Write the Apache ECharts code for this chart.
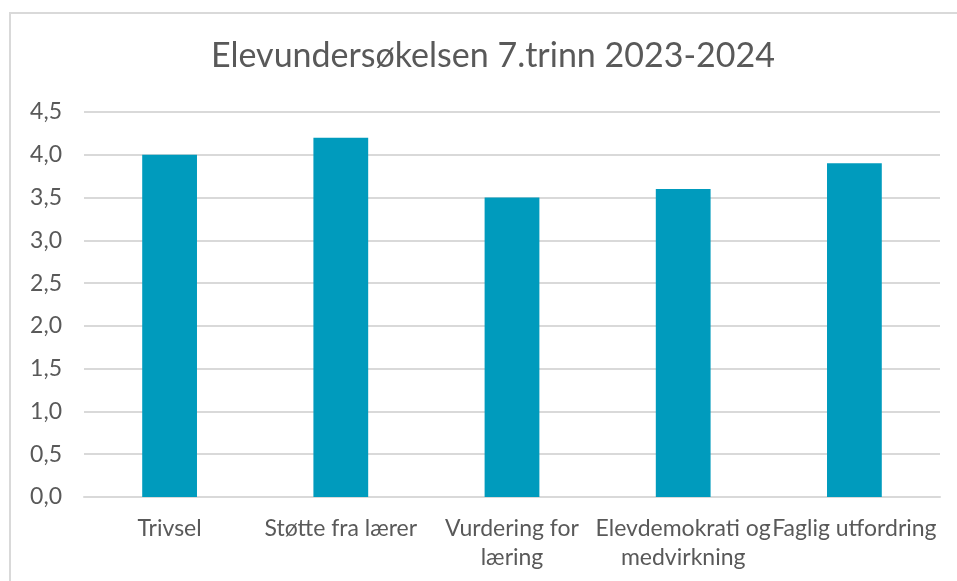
<!DOCTYPE html>
<html>
<head>
<meta charset="utf-8">
<script src="https://cdn.jsdelivr.net/npm/echarts@6/dist/echarts.min.js"></script>
<style>
  html, body { margin: 0; padding: 0; background: #fff; }
  #frame {
    position: absolute; left: 9px; top: 12px; width: 960px; height: 580px;
    border-left: 2px solid #d9d9d9; border-top: 2px solid #d9d9d9;
  }
  #chart { position: absolute; left: 0; top: 0; width: 957px; height: 581px; }
</style>
</head>
<body>
<div id="frame"></div>
<div id="chart"></div>
<script>
const title = 'Elevundersøkelsen 7.trinn 2023-2024'
const categories = ['Trivsel', 'Støtte fra lærer', 'Vurdering for\nlæring', 'Elevdemokrati og\nmedvirkning', 'Faglig utfordring']
const values = [4.0, 4.2, 3.5, 3.6, 3.9]

const font = 'Lato, sans-serif'
const chart = echarts.init(document.getElementById('chart'))
chart.setOption({
  animation: false,
  title: {
    text: title,
    left: 206,
    top: 34,
    textStyle: { fontFamily: font, fontSize: 34, fontWeight: 'normal', color: '#595959' }
  },
  grid: { left: 84, right: 17, top: 112, bottom: 84 },
  xAxis: {
    type: 'category',
    data: categories,
    axisLine: { show: true, lineStyle: { color: '#d9d9d9', width: 2 } },
    axisTick: { show: false },
    axisLabel: {
      interval: 0,
      margin: 17,
      fontFamily: font,
      fontSize: 23,
      lineHeight: 29,
      color: '#595959'
    }
  },
  yAxis: {
    type: 'value',
    min: 0,
    max: 4.5,
    interval: 0.5,
    axisLine: { show: false },
    axisTick: { show: false },
    splitLine: { lineStyle: { color: '#d9d9d9', width: 2 } },
    axisLabel: {
      margin: 22,
      fontFamily: font,
      fontSize: 23,
      color: '#595959',
      formatter: v => v.toFixed(1).replace('.', ',')
    }
  },
  series: [{
    type: 'bar',
    data: values,
    barWidth: '32%',
    itemStyle: { color: '#009bbd' }
  }]
})
</script>
</body>
</html>
